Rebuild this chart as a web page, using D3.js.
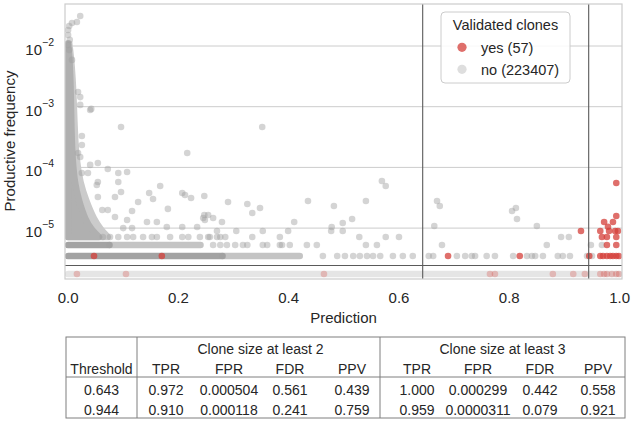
<!DOCTYPE html>
<html><head><meta charset="utf-8">
<script src="https://cdn.jsdelivr.net/npm/d3@7"></script>
<style>
body{margin:0;background:#fff;}
svg text{font-family:"Liberation Sans",Arial,Helvetica,sans-serif;fill:#262626;}
</style></head><body>
<svg id="chart" width="633" height="422"></svg>
<script>
// ---------------- DATA ----------------
const xTicks = [0, 0.2, 0.4, 0.6, 0.8, 1.0];
const xTickLabels = ["0.0", "0.2", "0.4", "0.6", "0.8", "1.0"];
const yTicks = [1e-2, 1e-3, 1e-4, 1e-5];
const yTickExponents = ["\u22122", "\u22123", "\u22124", "\u22125"];
const xLimits = [-0.0056, 1.0044];
const yLimits = [0.0492, 1.45e-6];
const thresholds = [0.643, 0.944];
const separatorFreq = 2.42e-6;     // line separating clones not observed
const floorFreq = 1.75e-6;         // level where unobserved clones are drawn
const legendTitle = "Validated clones";
const legendLabels = ["yes (57)", "no (223407)"];

// dense cloud of non-validated clones near prediction 0
const cloudFreq      = [1.1e-2, 6.84e-3, 3.0e-3, 1.29e-3, 3.69e-4, 1.32e-4, 5.53e-5, 2.9e-5, 1.36e-5, 9.3e-6, 7.13e-6];
const cloudOuterEdge = [0.002,  0.005,   0.008,  0.010,   0.012,   0.015,   0.022,   0.032,  0.047,   0.060,  0.072];
const cloudCoreEdge  = [0.000,  0.002,   0.004,  0.005,   0.006,   0.008,   0.012,   0.019,  0.031,   0.043,  0.056];

// dense rows of overlapping points (frequency level, start, end, density)
const bandFreq    = [5.27e-6, 5.27e-6, 3.47e-6, 3.47e-6, 1.75e-6];
const bandStart   = [0.000,   0.075,   0.000,   0.280,   0.000];
const bandEnd     = [0.075,   0.240,   0.280,   0.420,   1.000];
const bandDensity = [3, 2, 3, 2, 1];

// scattered non-validated clones
const grayPred = [0.022,0.016,0.007,0.002,0.000,0.000,0.003,0.000,0.002,0.007,
  0.018,0.022,0.042,0.022,0.040,0.096,0.216,0.352,0.025,0.025,
  0.018,0.022,0.040,0.054,0.025,0.036,0.091,0.072,0.107,0.054,
  0.091,0.096,0.052,0.127,0.167,0.147,0.154,0.207,0.212,0.223,
  0.181,0.116,0.085,0.107,0.143,0.161,0.245,0.263,0.179,0.207,
  0.234,0.100,0.116,0.054,0.085,0.062,0.072,0.247,0.290,0.325,
  0.334,0.348,0.435,0.482,0.540,0.569,0.576,0.410,0.478,0.477,
  0.498,0.498,0.515,0.399,0.279,0.270,0.305,0.353,0.247,0.248,
  0.254,0.669,0.674,0.664,0.805,0.812,0.814,0.850];
const grayFreq = [3.12e-2,2.48e-2,2.39e-2,2.13e-2,1.84e-2,1.52e-2,1.26e-2,1.04e-2,8.6e-3,5.9e-3,
  1.75e-3,1.44e-3,9.2e-4,1.07e-3,8.8e-4,4.63e-4,1.73e-4,4.63e-4,3.29e-4,2.34e-4,
  1.73e-4,1.48e-4,1.10e-4,1.18e-4,8.1e-5,8.1e-5,8.1e-5,9.4e-5,8.4e-5,5.75e-5,
  5.75e-5,3.94e-5,5.13e-5,2.69e-5,4.94e-5,3.79e-5,3.02e-5,3.79e-5,3.51e-5,3.13e-5,
  2.07e-5,1.91e-5,1.52e-5,1.36e-5,1.26e-5,1.26e-5,1.47e-5,1.47e-5,1.04e-5,1.04e-5,
  1.04e-5,1.0e-5,1.0e-5,3.25e-5,3.25e-5,1.99e-5,1.99e-5,3.38e-5,2.69e-5,2.49e-5,
  1.77e-5,2.14e-5,2.80e-5,2.31e-5,2.80e-5,5.97e-5,4.94e-5,1.26e-5,1.04e-5,8.95e-6,
  1.21e-5,8.95e-6,1.41e-5,8.95e-6,1.26e-5,8.95e-6,8.95e-6,8.95e-6,1.64e-5,1.36e-5,
  1.64e-5,2.80e-5,2.31e-5,1.08e-5,1.91e-5,2.14e-5,1.41e-5,1.08e-5];

// non-validated clones lying on discrete frequency rows
const rowFreq = [7.13e-6, 5.27e-6, 3.47e-6];
const rowAPred = [0.063,0.076,0.091,0.107,0.118,0.136,0.152,0.161,0.185,0.207,0.218,0.239,
  0.254,0.257,0.270,0.276,0.285,0.334,0.384,0.528,0.576,0.600,0.894,0.908];
const rowBPred = [0.263,0.276,0.288,0.303,0.317,0.325,0.353,0.361,0.384,0.388,0.402,0.433,
  0.451,0.540,0.560,0.678,0.868,0.948,0.968];
const rowCPred = [0.462,0.488,0.502,0.517,0.529,0.542,0.553,0.566,0.589,0.607,0.625,0.654,
  0.662,0.705,0.720,0.732,0.738,0.759,0.774,0.807,0.832,0.841,0.847,0.861,0.888,0.897,
  0.910,0.941,0.950];

// validated clones
const redPred = [0.047,0.170,0.689,0.819,0.930,0.945,0.994,0.994,0.972,0.988,0.979,0.965,
  0.981,0.992,0.997,0.968,0.977,0.994,0.977,0.994,0.965,0.970,0.977,0.983,0.988,0.994,0.999];
const redFreq = [3.47e-6,3.47e-6,3.47e-6,3.47e-6,8.95e-6,3.47e-6,5.53e-5,1.58e-5,1.26e-5,1.26e-5,
  1.05e-5,8.95e-6,8.95e-6,8.95e-6,8.95e-6,7.13e-6,7.13e-6,7.13e-6,5.27e-6,5.27e-6,
  3.47e-6,3.47e-6,3.47e-6,3.47e-6,3.47e-6,3.47e-6,3.47e-6];
// validated clones not observed (drawn at floor level)
const redFloorPred = [0.016,0.105,0.464,0.765,0.774,0.879,0.916,0.937,0.965,0.972,0.977,0.986,0.994,0.999];

// table
const tableThresholds = ["0.643", "0.944"];
const tableGroups = ["Clone size at least 2", "Clone size at least 3"];
const tableMetrics = ["TPR", "FPR", "FDR", "PPV"];
const size2Values = [["0.972","0.000504","0.561","0.439"], ["0.910","0.000118","0.241","0.759"]];
const size3Values = [["1.000","0.000299","0.442","0.558"], ["0.959","0.0000311","0.079","0.921"]];

// ---------------- DRAW ----------------
const svg = d3.select("#chart");
const P = {left: 65, right: 622, top: 4, bottom: 279};
const x = d3.scaleLinear().domain(xLimits).range([P.left, P.right]);
const y = d3.scaleLog().domain(yLimits).range([P.top, P.bottom]);
const R = 3.3;
const GRAY = "#a0a0a0", RED = "#d43f3a";

svg.append("defs").append("clipPath").attr("id", "clip")
  .append("rect").attr("x", P.left).attr("y", P.top)
  .attr("width", P.right - P.left).attr("height", P.bottom - P.top);

// grid
svg.append("g").selectAll("line").data(yTicks).join("line")
  .attr("x1", P.left).attr("x2", P.right)
  .attr("y1", d => y(d)).attr("y2", d => y(d))
  .attr("stroke", "#cccccc").attr("stroke-width", 1);

const g = svg.append("g").attr("clip-path", "url(#clip)");

// cloud
function cloudArea(edge) {
  const data = cloudFreq.map((f, i) => ({f, e: edge[i]}));
  return d3.area().curve(d3.curveBasis)
    .y(d => y(d.f)).x0(x(0)).x1(d => x(d.e))(data);
}
g.append("path").attr("d", cloudArea(cloudOuterEdge))
  .attr("fill", "#cbcbcb").attr("stroke", "#cbcbcb")
  .attr("stroke-width", 2 * R).attr("stroke-linejoin", "round");
g.append("path").attr("d", cloudArea(cloudCoreEdge))
  .attr("fill", "#b0b0b0").attr("stroke", "#b0b0b0")
  .attr("stroke-width", 2 * R).attr("stroke-linejoin", "round");

// bands
const densityOpacity = {1: 0.28, 2: 0.62, 3: 0.97};
g.append("g").selectAll("line").data(bandFreq.map((f, i) => ({f, s: bandStart[i], e: bandEnd[i], d: bandDensity[i]})))
  .join("line")
  .attr("x1", d => x(d.s)).attr("x2", d => x(d.e))
  .attr("y1", d => y(d.f)).attr("y2", d => y(d.f))
  .attr("stroke", GRAY).attr("stroke-opacity", d => densityOpacity[d.d])
  .attr("stroke-width", 2 * R).attr("stroke-linecap", "round");

// gray points
const grayPts = grayPred.map((p, i) => ({p, f: grayFreq[i]}))
  .concat(rowAPred.map(p => ({p, f: rowFreq[0]})))
  .concat(rowBPred.map(p => ({p, f: rowFreq[1]})))
  .concat(rowCPred.map(p => ({p, f: rowFreq[2]})));
g.append("g").selectAll("circle").data(grayPts).join("circle")
  .attr("cx", d => x(d.p)).attr("cy", d => y(d.f)).attr("r", R)
  .attr("fill", GRAY).attr("fill-opacity", 0.45);

// red floor points
g.append("g").selectAll("circle").data(redFloorPred).join("circle")
  .attr("cx", d => x(d)).attr("cy", y(floorFreq)).attr("r", R)
  .attr("fill", RED).attr("fill-opacity", 0.28);

// red points
g.append("g").selectAll("circle").data(redPred.map((p, i) => ({p, f: redFreq[i]}))).join("circle")
  .attr("cx", d => x(d.p)).attr("cy", d => y(d.f)).attr("r", R)
  .attr("fill", RED).attr("fill-opacity", 0.75);

// separator & thresholds
svg.append("line").attr("x1", P.left).attr("x2", P.right)
  .attr("y1", y(separatorFreq)).attr("y2", y(separatorFreq))
  .attr("stroke", "#5a5a5a").attr("stroke-width", 1.1);
svg.append("g").selectAll("line").data(thresholds).join("line")
  .attr("x1", d => x(d)).attr("x2", d => x(d))
  .attr("y1", P.top).attr("y2", P.bottom)
  .attr("stroke", "#5a5a5a").attr("stroke-width", 1.1);

// frame
svg.append("rect").attr("x", P.left).attr("y", P.top)
  .attr("width", P.right - P.left).attr("height", P.bottom - P.top)
  .attr("fill", "none").attr("stroke", "#cccccc").attr("stroke-width", 1.2);

// y tick labels
const yt = svg.append("g").selectAll("text").data(yTicks).join("text")
  .attr("x", 54).attr("y", d => y(d) + 9).attr("text-anchor", "end");
yt.append("tspan").attr("font-size", "15px").text("10");
yt.append("tspan").attr("font-size", "10.5px").attr("dy", -9).text((d, i) => yTickExponents[i]);

// x tick labels
svg.append("g").selectAll("text").data(xTicks).join("text")
  .attr("x", d => x(d)).attr("y", 303).attr("text-anchor", "middle")
  .attr("font-size", "15px").text((d, i) => xTickLabels[i]);

// axis labels
svg.append("text").attr("x", (P.left + P.right) / 2).attr("y", 323)
  .attr("text-anchor", "middle").attr("font-size", "15px").text("Prediction");
svg.append("text").attr("transform", "translate(15,141) rotate(-90)")
  .attr("text-anchor", "middle").attr("font-size", "15px").text("Productive frequency");

// legend
const lg = svg.append("g");
lg.append("rect").attr("x", 441).attr("y", 12).attr("width", 129).attr("height", 71)
  .attr("rx", 4).attr("fill", "#fff").attr("fill-opacity", 0.85)
  .attr("stroke", "#cccccc").attr("stroke-width", 1);
lg.append("text").attr("x", 505.5).attr("y", 29.5).attr("text-anchor", "middle")
  .attr("font-size", "14.5px").text(legendTitle);
const legendColors = [RED, "#c8c8c8"], legendOp = [0.75, 0.6];
const li = lg.selectAll("g.item").data(legendLabels).join("g").attr("class", "item")
  .attr("transform", (d, i) => `translate(0,${47.3 + i * 22})`);
li.append("circle").attr("cx", 462).attr("cy", 0).attr("r", 4.6)
  .attr("fill", (d, i) => legendColors[i]).attr("fill-opacity", (d, i) => legendOp[i]);
li.append("text").attr("x", 481).attr("y", 5.2).attr("font-size", "14.5px").text(d => d);

// table
const T = {left: 66, right: 625, top: 337, bottom: 418, c1: 137, c2: 380, headLine: 377};
const colCenters = [166, 229, 290, 352, 417, 478, 540, 598];
const rowBase = [354, 374, 395, 415];
const tb = svg.append("g");
tb.append("rect").attr("x", T.left).attr("y", T.top).attr("width", T.right - T.left)
  .attr("height", T.bottom - T.top).attr("fill", "#fff").attr("stroke", "#7f7f7f").attr("stroke-width", 1);
tb.append("line").attr("x1", T.left).attr("x2", T.right).attr("y1", T.headLine).attr("y2", T.headLine)
  .attr("stroke", "#7f7f7f");
[T.c1, T.c2].forEach(cx => tb.append("line").attr("x1", cx).attr("x2", cx)
  .attr("y1", T.top).attr("y2", T.bottom).attr("stroke", "#7f7f7f"));
const tt = (xx, yy, s) => tb.append("text").attr("x", xx).attr("y", yy)
  .attr("text-anchor", "middle").attr("font-size", "14px").text(s);
tableGroups.forEach((gname, i) => tt(i === 0 ? (T.c1 + T.c2) / 2 + 2 : (T.c2 + T.right) / 2, rowBase[0], gname));
tt((T.left + T.c1) / 2, rowBase[1], "Threshold");
tableGroups.forEach((gname, gi) => tableMetrics.forEach((m, mi) => tt(colCenters[gi * 4 + mi], rowBase[1], m)));
tableThresholds.forEach((t, ri) => {
  tt((T.left + T.c1) / 2, rowBase[2 + ri], t);
  size2Values[ri].forEach((v, ci) => tt(colCenters[ci], rowBase[2 + ri], v));
  size3Values[ri].forEach((v, ci) => tt(colCenters[4 + ci], rowBase[2 + ri], v));
});
</script>
</body></html>
